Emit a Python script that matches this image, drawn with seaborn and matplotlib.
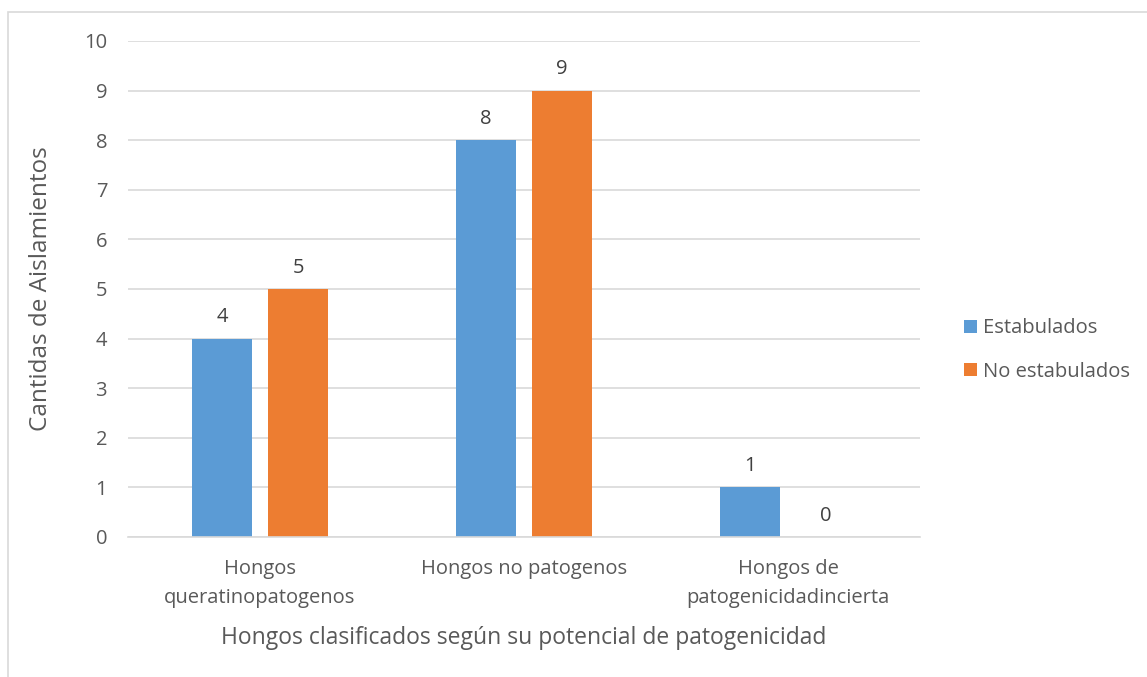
import matplotlib
matplotlib.use("Agg")
import matplotlib.pyplot as plt
import seaborn as sns
import pandas as pd
from matplotlib.patches import Rectangle

categories = ["Hongos\nqueratinopatogenos", "Hongos no patogenos", "Hongos de\npatogenicidadincierta"]
series_names = ["Estabulados", "No estabulados"]
estabulados = [4, 8, 1]
no_estabulados = [5, 9, 0]
y_ticks = list(range(0, 11))

df = pd.DataFrame({
    "categoria": categories * 2,
    "grupo": [series_names[0]] * 3 + [series_names[1]] * 3,
    "valor": estabulados + no_estabulados,
})

sns.set_theme(style="white")
plt.rcParams["font.family"] = ["Open Sans", "DejaVu Sans"]
text_color = "#595959"
grid_color = "#D9D9D9"

fig = plt.figure(figsize=(11.47, 6.77), dpi=100)
ax = fig.add_axes([128 / 1147, 1 - 537 / 677, (920 - 128) / 1147, (537 - 41) / 677])

sns.barplot(data=df, x="categoria", y="valor", hue="grupo",
            palette=["#5B9BD5", "#ED7D31"], width=0.576, gap=0.21,
            saturation=1, linewidth=0, ax=ax, legend=True)

ax.set_ylim(0, 10)
ax.set_xlim(-0.5, 2.5)
ax.set_yticks(y_ticks)
ax.yaxis.grid(True, color=grid_color, linewidth=1.2)
ax.set_axisbelow(True)
for side in ["left", "right", "top"]:
    ax.spines[side].set_visible(False)
ax.spines["bottom"].set_color(grid_color)
ax.spines["bottom"].set_linewidth(1.2)

ax.tick_params(axis="y", length=0, pad=15, labelsize=14.5, labelcolor=text_color)
ax.tick_params(axis="x", which="major", length=0, pad=16, labelsize=14.5, labelcolor=text_color)
for lbl in ax.get_xticklabels():
    lbl.set_linespacing(1.6)
ax.set_xticks([-0.5, 0.5, 1.5, 2.5], minor=True)
ax.tick_params(axis="x", which="minor", length=6, color=grid_color, width=1.2, direction="out")

for container in ax.containers:
    ax.bar_label(container, fmt="%g", padding=8, fontsize=14.5, color="#404040")

ax.set_ylabel("Cantidas de Aislamientos", fontsize=17.5, color=text_color, labelpad=22)
ax.set_xlabel("Hongos clasificados según su potencial de patogenicidad", fontsize=16.5,
              color=text_color, labelpad=13)

handles, labels = ax.get_legend_handles_labels()
ax.legend(handles, labels, loc="center left", bbox_to_anchor=(946 / 1147, 1 - 350 / 677),
          bbox_transform=fig.transFigure, frameon=False, fontsize=14.5,
          labelcolor=text_color, handlelength=0.65, handleheight=0.65,
          handletextpad=0.3, labelspacing=1.15)

# chart area frame
fig.patches.append(Rectangle((8 / 1147, -0.05), 1.1, 1.05 - 12 / 677,
                             transform=fig.transFigure, fill=False,
                             edgecolor="#D9D9D9", linewidth=1.2))

fig.savefig("out.png", dpi=100)
